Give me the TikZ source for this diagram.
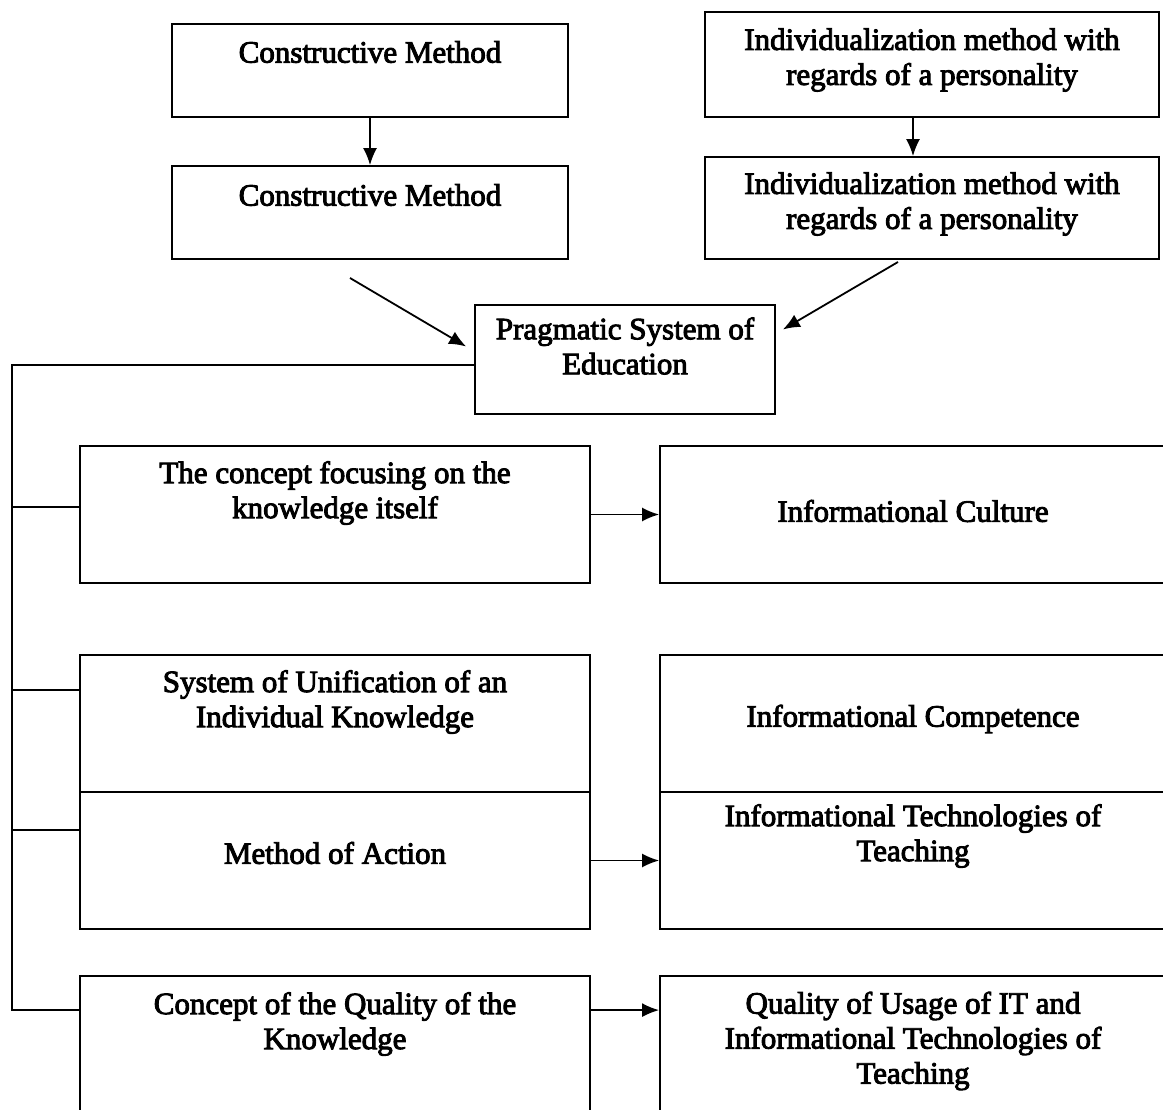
\documentclass[tikz,border=0pt]{standalone}
\usepackage{fontspec}
\newfontfamily\diafont{Liberation Serif}[FakeBold=3]
\usetikzlibrary{arrows.meta}

\begin{document}
\begin{tikzpicture}[x=1pt,y=-1pt,
					box/.style={draw=black, line width=1.8pt, inner sep=0pt},
					txt/.style={font=\diafont\fontsize{31}{35}\selectfont, align=center, inner sep=0pt},
					link/.style={line width=1.8pt},
					arr/.style={line width=1.8pt, -{Latex[length=17pt,width=14pt]}},
					]
					\useasboundingbox (0,0) rectangle (1163,1110);
					\clip (0,0) rectangle (1163,1110);
					%Boxes
					\node[box, minimum width=396pt, minimum height=93pt]  (cm1)  at (370,70.5)  {};
					\node[box, minimum width=396pt, minimum height=93pt]  (cm2)  at (370,212.5) {};
					\node[box, minimum width=454pt, minimum height=105pt] (ind1) at (932,64.5)  {};
					\node[box, minimum width=454pt, minimum height=102pt] (ind2) at (932,208)   {};
					\node[box, minimum width=300pt, minimum height=109pt] (prag) at (625,359.5) {};
					\node[box, minimum width=510pt, minimum height=137pt] (L1)   at (335,514.5) {};
					\node[box, minimum width=510pt, minimum height=137pt] (L2)   at (335,723.5) {};
					\node[box, minimum width=510pt, minimum height=137pt] (L3)   at (335,860.5) {};
					\node[box, minimum width=510pt, minimum height=164pt] (L4)   at (335,1058)  {};
					\node[box, minimum width=506pt, minimum height=137pt] (R1)   at (913,514.5) {};
					\node[box, minimum width=506pt, minimum height=137pt] (R2)   at (913,723.5) {};
					\node[box, minimum width=506pt, minimum height=137pt] (R3)   at (913,860.5) {};
					\node[box, minimum width=506pt, minimum height=164pt] (R4)   at (913,1058)  {};

					%Texts
					\node[txt] (cm1-t)  at (370,52)   {Constructive Method};
					\node[txt] (cm2-t)  at (370,195)  {Constructive Method};
					\node[txt] (ind1-t) at (932,60)   {Individualization method with\\regards of a personality};
					\node[txt] (ind2-t) at (932,204)  {Individualization method with\\regards of a personality};
					\node[txt] (prag-t) at (625,346)  {Pragmatic System of\\Education};
					\node[txt] (L1-t)   at (335,493)  {The concept focusing on the\\knowledge itself};
					\node[txt] (L2-t)   at (335,702)  {System of Unification of an\\Individual Knowledge};
					\node[txt] (L3-t)   at (335,853)  {Method of Action};
					\node[txt] (L4-t)   at (335,1024) {Concept of the Quality of the\\Knowledge};
					\node[txt] (R1-t)   at (913,511)  {Informational Culture};
					\node[txt] (R2-t)   at (913,719)  {Informational Competence};
					\node[txt] (R3-t)   at (913,836)  {Informational Technologies of\\Teaching};
					\node[txt] (R4-t)   at (913,1041) {Quality of Usage of IT and\\Informational Technologies of\\Teaching};

					%Coordinates
					\coordinate (top) at (12,365);
					\coordinate (b1)  at (12,507);
					\coordinate (b2)  at (12,690);
					\coordinate (b3)  at (12,830);
					\coordinate (bot) at (12,1010);
					\coordinate (s1)  at (350,278);
					\coordinate (s2)  at (898,262);

					%Lines
					\draw[arr] (cm1.south) -- (cm2.north);
					\draw[arr] ([xshift=-19pt]ind1.south) -- ([xshift=-19pt]ind2.north);
					\draw[arr] (s1) -- ([xshift=-8pt,yshift=13pt]prag.west);
					\draw[arr] (s2) -- ([xshift=7pt,yshift=30pt]prag.east);

					\draw[link] (prag.west |- top) -- (top) -- (bot) -- (bot -| L4.west);
					\draw[link] (b1) -- (b1 -| L1.west);
					\draw[link] (b2) -- (b2 -| L2.west);
					\draw[link] (b3) -- (b3 -| L3.west);

					\draw[arr] (L1.east) -- (R1.west);
					\draw[arr] (L3.east) -- (R3.west);
					\draw[arr] ([yshift=-35pt]L4.north east) -- ([yshift=-35pt]R4.north west);
				\end{tikzpicture}
\end{document}
